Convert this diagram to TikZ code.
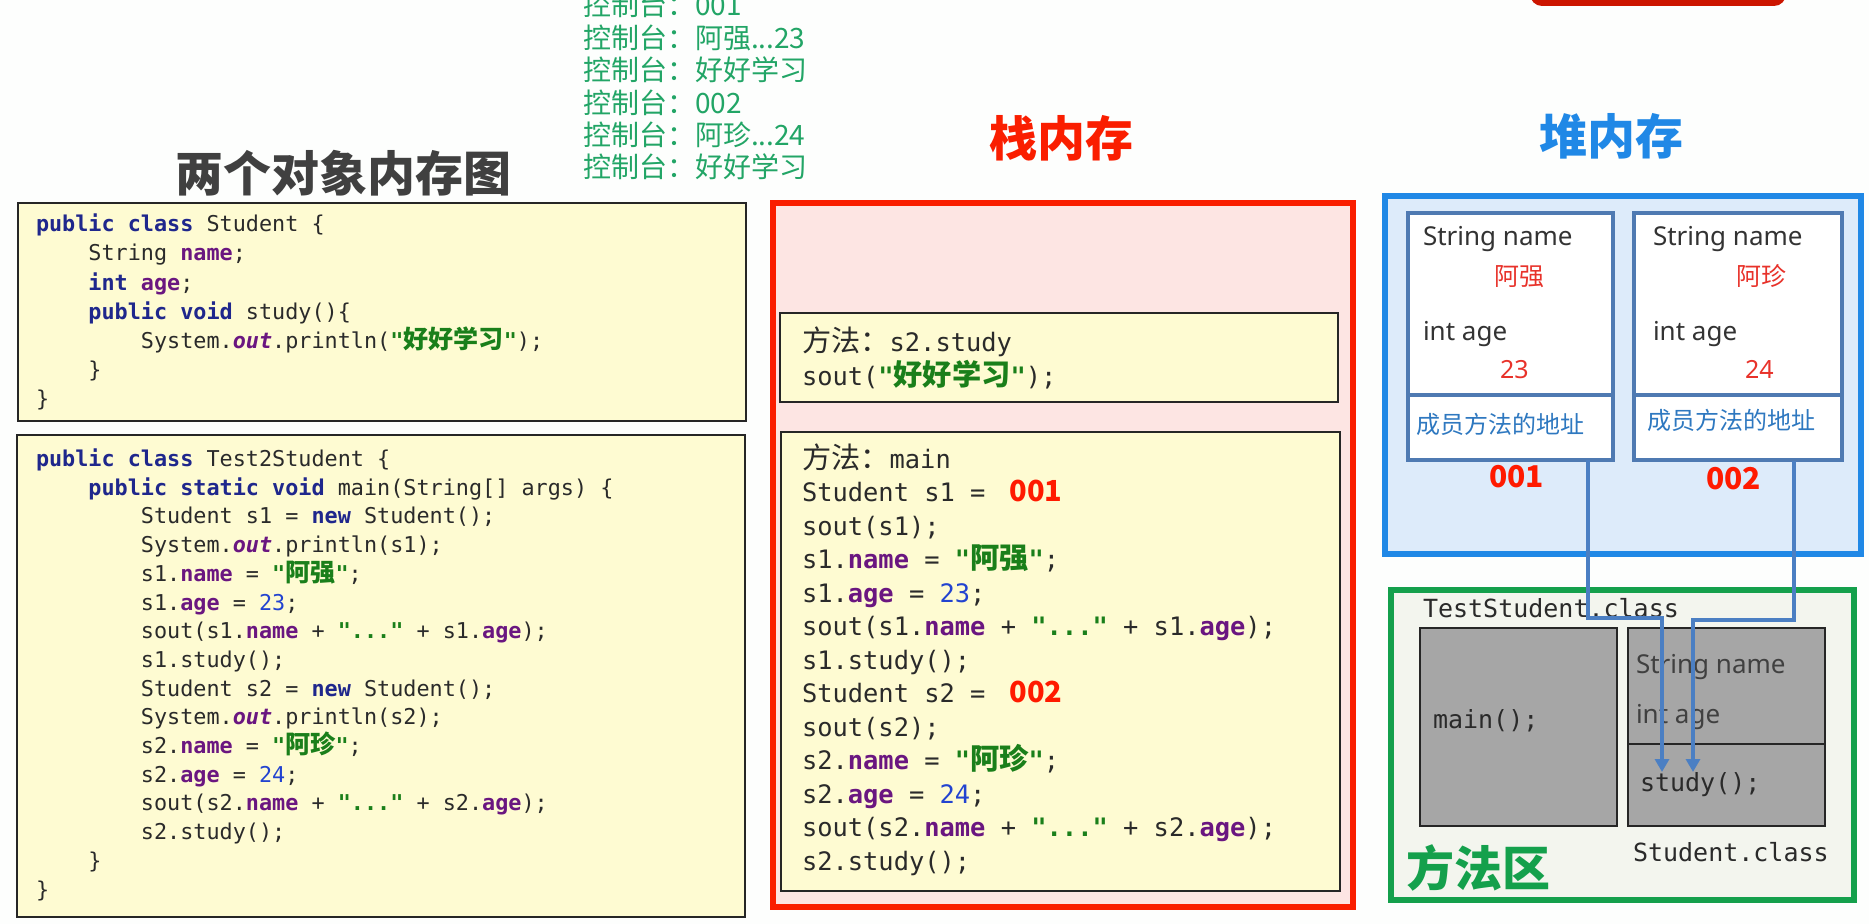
\documentclass[tikz,border=0pt]{standalone}
\usepackage{fontspec}
\setmainfont{Noto Sans}
\newfontfamily\cjk{Noto Sans CJK SC}
\newfontfamily\cjkc[Scale=1.15]{Noto Sans CJK SC}
\newfontfamily\codefont[Ligatures=TeXOff]{DejaVu Sans Mono}
\usetikzlibrary{fit,arrows.meta}
\setlength{\lineskiplimit}{-50pt}
\definecolor{bgwhite}{HTML}{FDFEFD}
\definecolor{codeyellow}{HTML}{FEFBD2}
\definecolor{stackpink}{HTML}{FDE5E3}
\definecolor{stackred}{HTML}{FA1E00}
\definecolor{heapfill}{HTML}{DDEBFA}
\definecolor{heapblue}{HTML}{2088E6}
\definecolor{objblue}{HTML}{4F7AB2}
\definecolor{areafill}{HTML}{F3F5EE}
\definecolor{areagreen}{HTML}{14A04C}
\definecolor{boxgray}{HTML}{A6A6A6}
\definecolor{arrowblue}{HTML}{4B7FC3}
\definecolor{consolegreen}{HTML}{22A566}
\definecolor{titlegray}{HTML}{404040}
\definecolor{valred}{HTML}{E8322A}
\definecolor{addrred}{HTML}{FF1A00}
\definecolor{memberblue}{HTML}{2E78C0}
\definecolor{kwblue}{HTML}{1F278C}
\definecolor{fieldpurple}{HTML}{6A1680}
\definecolor{strgreen}{HTML}{1A7F1A}
\definecolor{numblue}{HTML}{2243D0}
\definecolor{codetext}{HTML}{2A2A2A}
\definecolor{btnred}{HTML}{CC1500}
\newcommand{\ckw}[1]{{\bfseries\color{kwblue}#1}}
\newcommand{\cfd}[1]{{\bfseries\color{fieldpurple}#1}}
\newcommand{\cout}[1]{{\bfseries\itshape\color{fieldpurple}#1}}
\newcommand{\cstr}[1]{{\bfseries\color{strgreen}#1}}
\newcommand{\cnum}[1]{{\color{numblue}#1}}
\newcommand{\indA}{\hbox{\phantom{xxxx}}}
\newcommand{\indB}{\hbox{\phantom{xxxxxxxx}}}
\newcommand{\addrfont}{\cjk\bfseries\fontsize{14.5}{14}\selectfont\color{addrred}}
\begin{document}
\begin{tikzpicture}[x=0.5pt,y=-0.5pt,
  box/.style={inner sep=0pt, outer sep=0pt},
  codepanel/.style={box, draw=black!85, line width=1.2pt, fill=codeyellow},
  txt/.style={anchor=base west, inner sep=0pt, outer sep=0pt},
  leftcode/.style={txt, align=left, text=codetext, font=\codefont\fontsize{10.9}{14.6}\selectfont},
  leftcodeb/.style={leftcode, font=\codefont\fontsize{10.9}{14.35}\selectfont},
  stackcode/.style={txt, align=left, text=codetext, font=\codefont\fontsize{12.7}{16.75}\selectfont},
  bigtitle/.style={txt, font=\cjk\bfseries\fontsize{24}{24}\selectfont},
  console/.style={txt, align=left, text=consolegreen, font=\cjk\fontsize{14}{16.2}\selectfont},
  heaptxt/.style={txt, text=black!80, font=\fontsize{13}{15}\selectfont},
  valtxt/.style={txt, text=valred, font=\cjk\fontsize{12.5}{14}\selectfont},
  numtxt/.style={txt, text=valred, font=\fontsize{12.5}{14}\selectfont},
  membertxt/.style={txt, text=memberblue, font=\cjk\fontsize{12}{14}\selectfont},
  addrtxt/.style={txt, text=addrred, font=\cjk\bfseries\fontsize{15}{15}\selectfont},
  monotxt/.style={txt, text=codetext, font=\codefont\fontsize{12.5}{14}\selectfont},
  objbox/.style={box, draw=objblue, line width=1.6pt, fill=white},
  graybox/.style={box, draw=black!85, line width=1.2pt, fill=boxgray},
  ptr/.style={draw=arrowblue, line width=2.4pt, -{Triangle[width=7pt,length=6.5pt]}}
]
\useasboundingbox (0,0) rectangle (1869,924);
\clip (0,0) rectangle (1869,924);
\fill[bgwhite] (0,0) rectangle (1869,924);

% top-right button remnant
\node[box, fill=btnred, rounded corners=6pt, fit={(1530,-40) (1786,6)}] (btn) {};

% console output (anchor = baseline of last line)
\node[console] (con) at (583,178) {控制台：001\\控制台：阿强...23\\控制台：好好学习\\控制台：002\\控制台：阿珍...24\\控制台：好好学习};

% titles
\node[bigtitle, text=titlegray] (t1) at (175,192) {两个对象内存图};
\node[bigtitle, text=stackred] (t2) at (989,157) {栈内存};
\node[bigtitle, text=heapblue] (t3) at (1539,155) {堆内存};

% left code boxes
\node[codepanel, fit={(18,203) (746,421)}] (b1) {};
\node[leftcode] (c1) at (36,407) {\ckw{public class} Student \{\\
\indA String \cfd{name};\\
\indA\ckw{int} \cfd{age};\\
\indA\ckw{public void} study()\{\\
\indB System.\cout{out}.println(\cstr{"{\cjkc 好好学习}"});\\
\indA\}\\
\}};

\node[codepanel, fit={(17,435) (745,917)}] (b2) {};
\node[leftcodeb] (c2) at (36,897) {\ckw{public class} Test2Student \{\\
\indA\ckw{public static void} main(String[] args) \{\\
\indB Student s1 = \ckw{new} Student();\\
\indB System.\cout{out}.println(s1);\\
\indB s1.\cfd{name} = \cstr{"{\cjkc 阿强}"};\\
\indB s1.\cfd{age} = \cnum{23};\\
\indB sout(s1.\cfd{name} + \cstr{"..."} + s1.\cfd{age});\\
\indB s1.study();\\
\indB Student s2 = \ckw{new} Student();\\
\indB System.\cout{out}.println(s2);\\
\indB s2.\cfd{name} = \cstr{"{\cjkc 阿珍}"};\\
\indB s2.\cfd{age} = \cnum{24};\\
\indB sout(s2.\cfd{name} + \cstr{"..."} + s2.\cfd{age});\\
\indB s2.study();\\
\indA\}\\
\}};

% stack
\node[box, draw=stackred, line width=3pt, fill=stackpink, fit={(773,203) (1353,907)}] (stack) {};
\node[codepanel, fit={(780,313) (1338,402)}] (fa) {};
\node[stackcode, font=\codefont\fontsize{12.7}{17.3}\selectfont] (fatxt) at (802,386) {{\cjkc 方法：}s2.study\\
sout(\cstr{"{\cjkc 好好学习}"});};
\node[codepanel, fit={(781,432) (1340,891)}] (fb) {};
\node[stackcode] (fbtxt) at (802,870) {{\cjkc 方法：}main\\
Student s1 =\hspace*{12pt}{\addrfont 001}\\
sout(s1);\\
s1.\cfd{name} = \cstr{"{\cjkc 阿强}"};\\
s1.\cfd{age} = \cnum{23};\\
sout(s1.\cfd{name} + \cstr{"..."} + s1.\cfd{age});\\
s1.study();\\
Student s2 =\hspace*{12pt}{\addrfont 002}\\
sout(s2);\\
s2.\cfd{name} = \cstr{"{\cjkc 阿珍}"};\\
s2.\cfd{age} = \cnum{24};\\
sout(s2.\cfd{name} + \cstr{"..."} + s2.\cfd{age});\\
s2.study();};

% heap
\node[box, draw=heapblue, line width=3pt, fill=heapfill, fit={(1385,196) (1861,554)}] (heap) {};
\node[objbox, fit={(1408,213) (1613,460)}] (obj1) {};
\node[objbox, fit={(1634,213) (1842,460)}] (obj2) {};
\draw[draw=objblue, line width=1.6pt] (1408,395) -- (1613,395);
\draw[draw=objblue, line width=1.6pt] (1634,395) -- (1842,395);
\node[heaptxt] (o1n) at (1423,246) {String name};
\node[valtxt] (o1v) at (1494,286) {阿强};
\node[heaptxt] (o1a) at (1423,341) {int age};
\node[numtxt] (o1g) at (1500,379) {23};
\node[membertxt] (o1m) at (1416,434) {成员方法的地址};
\node[addrtxt] (o1addr) at (1489,488) {001};
\node[heaptxt] (o2n) at (1653,246) {String name};
\node[valtxt] (o2v) at (1736,286) {阿珍};
\node[heaptxt] (o2a) at (1653,341) {int age};
\node[numtxt] (o2g) at (1745,379) {24};
\node[membertxt] (o2m) at (1647,430) {成员方法的地址};
\node[addrtxt] (o2addr) at (1706,490) {002};

% method area
\node[box, draw=areagreen, line width=3pt, fill=areafill, fit={(1391,590) (1854,900)}] (area) {};
\node[monotxt] (tsc) at (1423,618) {TestStudent.class};
\node[graybox, fit={(1420,628) (1617,826)}] (mainbox) {};
\node[monotxt] (mainm) at (1433,728) {main();};
\node[graybox, fit={(1628,628) (1825,826)}] (stbox) {};
\draw[black!85, line width=1.2pt] (1628,744) -- (1825,744);
\node[heaptxt, text=black!75] (sn) at (1636,674) {String name};
\node[heaptxt, text=black!75] (sa) at (1636,724) {int age};
\node[monotxt] (studym) at (1640,791) {study();};
\node[monotxt] (scl) at (1633,861) {Student.class};
\node[bigtitle, text=areagreen] (t4) at (1406,886) {方法区};

% pointers to the member method
\coordinate (a1s) at (1588,460);
\coordinate (a1e) at (1662,772);
\coordinate (a2s) at (1794,461);
\coordinate (a2e) at (1693,772);
\draw[ptr] (a1s) -- ++(0,158) -| (a1e);
\draw[ptr] (a2s) -- ++(0,159) -| (a2e);
\end{tikzpicture}
\end{document}
